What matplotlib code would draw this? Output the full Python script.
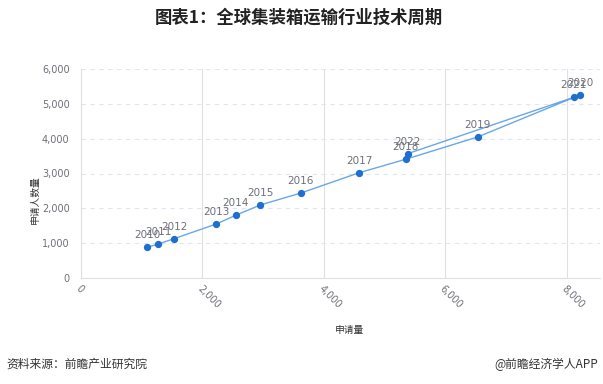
import matplotlib.pyplot as plt

plt.rcParams['font.family'] = ['Noto Sans CJK SC', 'DejaVu Sans']

years = ['2010', '2011', '2012', '2013', '2014', '2015', '2016', '2017',
         '2018', '2019', '2020', '2021', '2022']
applications = [1096, 1277, 1536, 2232, 2551, 2957, 3626, 4586,
                5350, 6535, 8219, 8120, 5383]
applicants = [881, 976, 1128, 1550, 1800, 2096, 2440, 3023,
              3408, 4048, 5254, 5188, 3569]

W, H = 603, 384
fig = plt.figure(figsize=(W / 100, H / 100), dpi=100)
ax = fig.add_axes([80.7 / W, 1 - 278 / H, (600 - 80.7) / W, (278 - 69) / H])

ax.plot(applications, applicants, color='#6aa7e6', lw=1.0, zorder=3)
ax.scatter(applications, applicants, s=18, color='#1f6fd1', zorder=4)
for x, y, t in zip(applications, applicants, years):
    ax.annotate(t, (x, y), xytext=(0, 5), textcoords='offset points',
                ha='center', va='bottom', fontsize=7.5, color='#6e7079',
                family='DejaVu Sans', zorder=5)

ax.set_xlim(0, 8550)
ax.set_ylim(0, 6000)
ax.set_xticks([0, 2000, 4000, 6000, 8000])
ax.set_yticks(range(0, 7000, 1000))
ax.set_xticklabels(['0', '2,000', '4,000', '6,000', '8,000'],
                   rotation=-45, ha='left', va='top', rotation_mode='anchor',
                   family='DejaVu Sans')
ax.set_yticklabels([f'{v:,}' for v in range(0, 7000, 1000)], family='DejaVu Sans')
ax.tick_params(axis='both', length=0, labelsize=7, labelcolor='#6e7079')
ax.tick_params(axis='x', pad=4)
ax.tick_params(axis='y', pad=8)

ax.grid(axis='y', color='#e0e6f1', ls=(0, (4, 4)), lw=0.8)
ax.grid(axis='x', color='#e0e0e0', ls='-', lw=0.8)
ax.set_axisbelow(True)
for s in ['top', 'right']:
    ax.spines[s].set_visible(False)
for s in ['left', 'bottom']:
    ax.spines[s].set_color('#e0e0e0')
    ax.spines[s].set_linewidth(0.8)

fig.text(35 / W, 1 - 200 / H, '申请人数量', rotation=90, ha='center', va='center',
         fontsize=7, color='#333333')
fig.text(349 / W, 1 - 330 / H, '申请量', ha='center', va='center',
         fontsize=7, color='#333333')

fig.text(0.495, 1 - 18 / H, '图表1：全球集装箱运输行业技术周期', ha='center', va='center',
         fontsize=12.5, fontweight='bold', color='#222222')
fig.text(6 / W, 1 - 364 / H, '资料来源：前瞻产业研究院', ha='left', va='center',
         fontsize=8.5, color='#333333')
fig.text(598 / W, 1 - 364 / H, '@前瞻经济学人APP', ha='right', va='center',
         fontsize=8.5, color='#333333')

fig.savefig('out.png', dpi=100)
